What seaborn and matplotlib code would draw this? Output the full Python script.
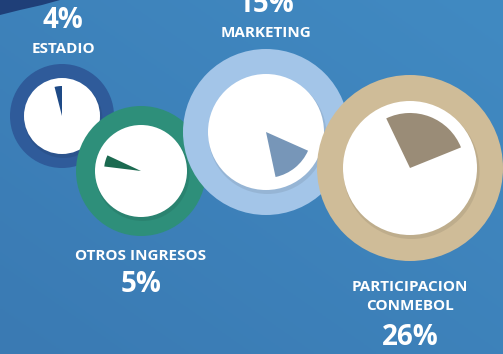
import numpy as np
import matplotlib
matplotlib.use("Agg")
import matplotlib.pyplot as plt
from matplotlib.patches import Circle, Wedge, Polygon
import seaborn as sns

# data
categories = ["ESTADIO", "OTROS INGRESOS", "MARKETING", "PARTICIPACION\nCONMEBOL"]
shares = [4, 5, 15, 26]

# layout (pixel space of the 503x354 canvas)
centers = [(62, 116), (141, 171), (266, 132), (410, 168)]
ring_r = [52, 65, 83, 93]
white_r = [38, 46, 58, 67]
wedge_r = [30, 37, 46, 55]
start_angles = [90, 155, -78, 22]
ring_colors = ["#2f5b9a", "#2e8f7a", "#a3c5e8", "#cfbc98"]
wedge_colors = ["#1e4a86", "#1b6a50", "#7796b8", "#9a8c77"]
# (x, label baseline, pct baseline)
text_pos = [(63, 53, 28), (141, 260, 292), (266, 37, 12), (410, 291, 345)]

sns.set_theme(style="white")
plt.rcParams["font.family"] = ["Open Sans", "DejaVu Sans"]

fig = plt.figure(figsize=(5.03, 3.54), dpi=100)
ax = fig.add_axes([0, 0, 1, 1])
ax.set_xlim(0, 503)
ax.set_ylim(354, 0)
ax.set_aspect("auto")
ax.axis("off")

# background gradient: lighter top-right, darker bottom-left
top_right = np.array([0x41, 0x8a, 0xc2]) / 255
bottom_left = np.array([0x3a, 0x7a, 0xb3]) / 255
yy, xx = np.mgrid[0:1:120j, 0:1:170j]
t = (xx + (1 - yy)) / 2
grad = bottom_left + t[..., None] * (top_right - bottom_left)
ax.imshow(grad, extent=[0, 503, 354, 0], aspect="auto", zorder=0)

# dark corner shape top-left
ax.add_patch(Polygon([(0, 0), (60, 0), (42, 5), (20, 10), (0, 15)],
                     closed=True, color="#1f3f78", lw=0, zorder=1))

for i, (cat, val) in enumerate(zip(categories, shares)):
    cx, cy = centers[i]
    z = 2 + i * 3
    ax.add_patch(Circle((cx, cy), ring_r[i], color=ring_colors[i], lw=0, zorder=z))
    ax.add_patch(Circle((cx + 1.5, cy + 3), white_r[i] + 1, color="black", alpha=0.08,
                        lw=0, zorder=z + 0.5))
    ax.add_patch(Circle((cx, cy), white_r[i], color="white", lw=0, zorder=z + 1))
    # the slice: y axis is inverted, so angles are mirrored
    a0 = start_angles[i]
    a1 = a0 + val * 3.6
    ax.add_patch(Wedge((cx, cy), wedge_r[i], -a1, -a0, color=wedge_colors[i],
                       lw=0, zorder=z + 2))

    tx, lab_y, pct_y = text_pos[i]
    for k, line in enumerate(cat.split("\n")):
        ax.text(tx, lab_y + k * 19, line, ha="center", va="baseline",
                fontsize=11, fontweight="bold", color="white", zorder=20)
    ax.text(tx, pct_y, f"{val}%", ha="center", va="baseline",
            fontsize=20, fontweight="bold", color="white", zorder=20)

fig.savefig("out.png", dpi=100)
